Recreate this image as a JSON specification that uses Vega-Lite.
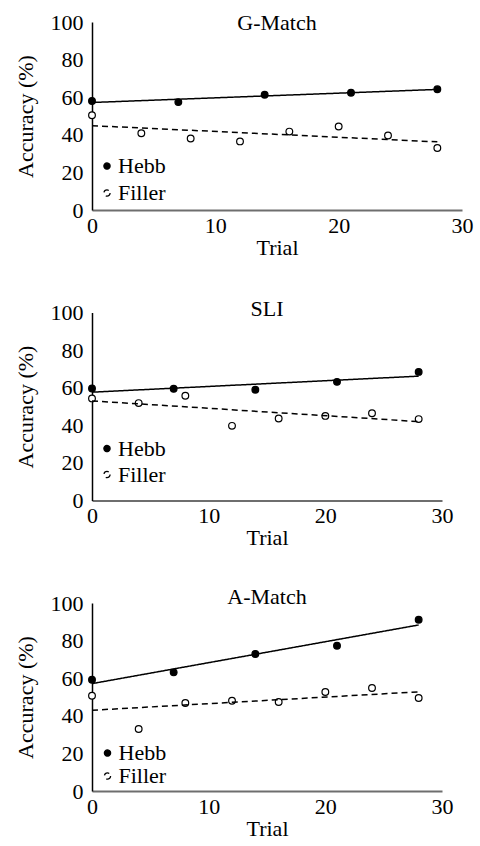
{
  "$schema": "https://vega.github.io/schema/vega-lite/v6.json",
  "padding": {"left": 14, "top": 11, "right": 5, "bottom": 5},
  "background": "white",
  "data": {"values": [
    {"p": "G-Match", "c": "Hebb", "t": 0, "a": 58},
    {"p": "G-Match", "c": "Hebb", "t": 7, "a": 57.4},
    {"p": "G-Match", "c": "Hebb", "t": 14, "a": 61.3},
    {"p": "G-Match", "c": "Hebb", "t": 21, "a": 62.4},
    {"p": "G-Match", "c": "Hebb", "t": 28, "a": 64.2},
    {"p": "G-Match", "c": "Filler", "t": 0, "a": 50.4},
    {"p": "G-Match", "c": "Filler", "t": 4, "a": 40.8},
    {"p": "G-Match", "c": "Filler", "t": 8, "a": 38},
    {"p": "G-Match", "c": "Filler", "t": 12, "a": 36.5},
    {"p": "G-Match", "c": "Filler", "t": 16, "a": 41.7},
    {"p": "G-Match", "c": "Filler", "t": 20, "a": 44.4},
    {"p": "G-Match", "c": "Filler", "t": 24, "a": 39.6},
    {"p": "G-Match", "c": "Filler", "t": 28, "a": 33},
    {"p": "SLI", "c": "Hebb", "t": 0, "a": 59.6},
    {"p": "SLI", "c": "Hebb", "t": 7, "a": 59.4},
    {"p": "SLI", "c": "Hebb", "t": 14, "a": 58.9},
    {"p": "SLI", "c": "Hebb", "t": 21, "a": 63.1},
    {"p": "SLI", "c": "Hebb", "t": 28, "a": 68.4},
    {"p": "SLI", "c": "Filler", "t": 0, "a": 54.3},
    {"p": "SLI", "c": "Filler", "t": 4, "a": 51.8},
    {"p": "SLI", "c": "Filler", "t": 8, "a": 55.7},
    {"p": "SLI", "c": "Filler", "t": 12, "a": 39.7},
    {"p": "SLI", "c": "Filler", "t": 16, "a": 43.6},
    {"p": "SLI", "c": "Filler", "t": 20, "a": 45},
    {"p": "SLI", "c": "Filler", "t": 24, "a": 46.4},
    {"p": "SLI", "c": "Filler", "t": 28, "a": 43.3},
    {"p": "A-Match", "c": "Hebb", "t": 0, "a": 59.2},
    {"p": "A-Match", "c": "Hebb", "t": 7, "a": 63.1},
    {"p": "A-Match", "c": "Hebb", "t": 14, "a": 72.9},
    {"p": "A-Match", "c": "Hebb", "t": 21, "a": 77.3},
    {"p": "A-Match", "c": "Hebb", "t": 28, "a": 91.1},
    {"p": "A-Match", "c": "Filler", "t": 0, "a": 50.7},
    {"p": "A-Match", "c": "Filler", "t": 4, "a": 33},
    {"p": "A-Match", "c": "Filler", "t": 8, "a": 46.8},
    {"p": "A-Match", "c": "Filler", "t": 12, "a": 48},
    {"p": "A-Match", "c": "Filler", "t": 16, "a": 47.3},
    {"p": "A-Match", "c": "Filler", "t": 20, "a": 52.7},
    {"p": "A-Match", "c": "Filler", "t": 24, "a": 54.8},
    {"p": "A-Match", "c": "Filler", "t": 28, "a": 49.5}
  ]},
  "spacing": 102.5,
  "bounds": "flush",
  "resolve": {"scale": {"fill": "independent", "strokeDash": "independent"}},
  "vconcat": [
    {
      "width": 370, "height": 188,
      "title": {"text": "G-Match", "font": "Liberation Serif", "fontSize": 22, "fontWeight": "normal", "color": "black", "frame": "group", "anchor": "middle", "offset": -24},
      "transform": [{"filter": "datum.p === 'G-Match'"}],
      "encoding": {
        "x": {"field": "t", "type": "quantitative", "title": "Trial", "scale": {"domain": [0, 30], "nice": false},
          "axis": {"tickCount": 3, "grid": false, "ticks": false, "tickSize": 0, "labelFlush": false, "labelOverlap": false, "labelFont": "Liberation Serif", "labelFontSize": 22, "labelColor": "black", "labelPadding": 5, "titleFont": "Liberation Serif", "titleFontSize": 22, "titleFontWeight": "normal", "titleColor": "black", "titlePadding": 1, "domainColor": "#6e6e6e", "domainWidth": 2}},
        "y": {"field": "a", "type": "quantitative", "title": "Accuracy (%)", "scale": {"domain": [0, 100], "nice": false},
          "axis": {"tickCount": 5, "grid": false, "ticks": false, "tickSize": 0, "labelFlush": false, "labelOverlap": false, "labelFont": "Liberation Serif", "labelFontSize": 22, "labelColor": "black", "labelPadding": 9, "titleFont": "Liberation Serif", "titleFontSize": 22, "titleFontWeight": "normal", "titleColor": "black", "titlePadding": 13, "domainColor": "black", "domainWidth": 1.5}}
      },
      "layer": [
        {
          "mark": {"type": "point", "shape": "circle", "filled": true, "size": 45, "stroke": "black", "strokeWidth": 1.2, "opacity": 1},
          "encoding": {
            "fill": {"field": "c", "type": "nominal", "scale": {"domain": ["Hebb", "Filler"], "range": ["black", "white"]},
              "legend": {"orient": "none", "legendX": 4, "legendY": 133, "rowPadding": 5, "title": null, "padding": 0, "labelFont": "Liberation Serif", "labelFontSize": 22, "labelColor": "black", "labelOffset": 0, "symbolType": "circle", "symbolSize": 38, "symbolStrokeColor": "black", "symbolStrokeWidth": 1.3}}
          }
        },
        {
          "transform": [{"regression": "a", "on": "t", "groupby": ["c"], "extent": [0, 28]}],
          "mark": {"type": "line", "color": "black", "strokeWidth": 1.5},
          "encoding": {
            "strokeDash": {"field": "c", "type": "nominal", "scale": {"domain": ["Hebb", "Filler"], "range": [[1, 0], [6, 4]]}, "legend": null}
          }
        }
      ]
    },
    {
      "width": 350, "height": 188,
      "title": {"text": "SLI", "font": "Liberation Serif", "fontSize": 22, "fontWeight": "normal", "color": "black", "frame": "group", "anchor": "middle", "offset": -19},
      "transform": [{"filter": "datum.p === 'SLI'"}],
      "encoding": {
        "x": {"field": "t", "type": "quantitative", "title": "Trial", "scale": {"domain": [0, 30], "nice": false},
          "axis": {"tickCount": 3, "grid": false, "ticks": false, "tickSize": 0, "labelFlush": false, "labelOverlap": false, "labelFont": "Liberation Serif", "labelFontSize": 22, "labelColor": "black", "labelPadding": 5, "titleFont": "Liberation Serif", "titleFontSize": 22, "titleFontWeight": "normal", "titleColor": "black", "titlePadding": 1, "domainColor": "#6e6e6e", "domainWidth": 2}},
        "y": {"field": "a", "type": "quantitative", "title": "Accuracy (%)", "scale": {"domain": [0, 100], "nice": false},
          "axis": {"tickCount": 5, "grid": false, "ticks": false, "tickSize": 0, "labelFlush": false, "labelOverlap": false, "labelFont": "Liberation Serif", "labelFontSize": 22, "labelColor": "black", "labelPadding": 9, "titleFont": "Liberation Serif", "titleFontSize": 22, "titleFontWeight": "normal", "titleColor": "black", "titlePadding": 13, "domainColor": "black", "domainWidth": 1.5}}
      },
      "layer": [
        {
          "mark": {"type": "point", "shape": "circle", "filled": true, "size": 45, "stroke": "black", "strokeWidth": 1.2, "opacity": 1},
          "encoding": {
            "fill": {"field": "c", "type": "nominal", "scale": {"domain": ["Hebb", "Filler"], "range": ["black", "white"]},
              "legend": {"orient": "none", "legendX": 4, "legendY": 125, "rowPadding": 4, "title": null, "padding": 0, "labelFont": "Liberation Serif", "labelFontSize": 22, "labelColor": "black", "labelOffset": 0, "symbolType": "circle", "symbolSize": 38, "symbolStrokeColor": "black", "symbolStrokeWidth": 1.3}}
          }
        },
        {
          "transform": [{"regression": "a", "on": "t", "groupby": ["c"], "extent": [0, 28]}],
          "mark": {"type": "line", "color": "black", "strokeWidth": 1.5},
          "encoding": {
            "strokeDash": {"field": "c", "type": "nominal", "scale": {"domain": ["Hebb", "Filler"], "range": [[1, 0], [6, 4]]}, "legend": null}
          }
        }
      ]
    },
    {
      "width": 350, "height": 188,
      "title": {"text": "A-Match", "font": "Liberation Serif", "fontSize": 22, "fontWeight": "normal", "color": "black", "frame": "group", "anchor": "middle", "offset": -17},
      "transform": [{"filter": "datum.p === 'A-Match'"}],
      "encoding": {
        "x": {"field": "t", "type": "quantitative", "title": "Trial", "scale": {"domain": [0, 30], "nice": false},
          "axis": {"tickCount": 3, "grid": false, "ticks": false, "tickSize": 0, "labelFlush": false, "labelOverlap": false, "labelFont": "Liberation Serif", "labelFontSize": 22, "labelColor": "black", "labelPadding": 5, "titleFont": "Liberation Serif", "titleFontSize": 22, "titleFontWeight": "normal", "titleColor": "black", "titlePadding": 1, "domainColor": "#6e6e6e", "domainWidth": 2}},
        "y": {"field": "a", "type": "quantitative", "title": "Accuracy (%)", "scale": {"domain": [0, 100], "nice": false},
          "axis": {"tickCount": 5, "grid": false, "ticks": false, "tickSize": 0, "labelFlush": false, "labelOverlap": false, "labelFont": "Liberation Serif", "labelFontSize": 22, "labelColor": "black", "labelPadding": 9, "titleFont": "Liberation Serif", "titleFontSize": 22, "titleFontWeight": "normal", "titleColor": "black", "titlePadding": 13, "domainColor": "black", "domainWidth": 1.5}}
      },
      "layer": [
        {
          "mark": {"type": "point", "shape": "circle", "filled": true, "size": 45, "stroke": "black", "strokeWidth": 1.2, "opacity": 1},
          "encoding": {
            "fill": {"field": "c", "type": "nominal", "scale": {"domain": ["Hebb", "Filler"], "range": ["black", "white"]},
              "legend": {"orient": "none", "legendX": 4.5, "legendY": 139, "rowPadding": 1, "title": null, "padding": 0, "labelFont": "Liberation Serif", "labelFontSize": 22, "labelColor": "black", "labelOffset": 0, "symbolType": "circle", "symbolSize": 38, "symbolStrokeColor": "black", "symbolStrokeWidth": 1.3}}
          }
        },
        {
          "transform": [{"regression": "a", "on": "t", "groupby": ["c"], "extent": [0, 28]}],
          "mark": {"type": "line", "color": "black", "strokeWidth": 1.5},
          "encoding": {
            "strokeDash": {"field": "c", "type": "nominal", "scale": {"domain": ["Hebb", "Filler"], "range": [[1, 0], [6, 4]]}, "legend": null}
          }
        }
      ]
    }
  ],
  "config": {
    "view": {"stroke": null},
    "style": {"guide-label": {"font": "Liberation Serif", "fontSize": 22, "fill": "black"}}
  }
}
